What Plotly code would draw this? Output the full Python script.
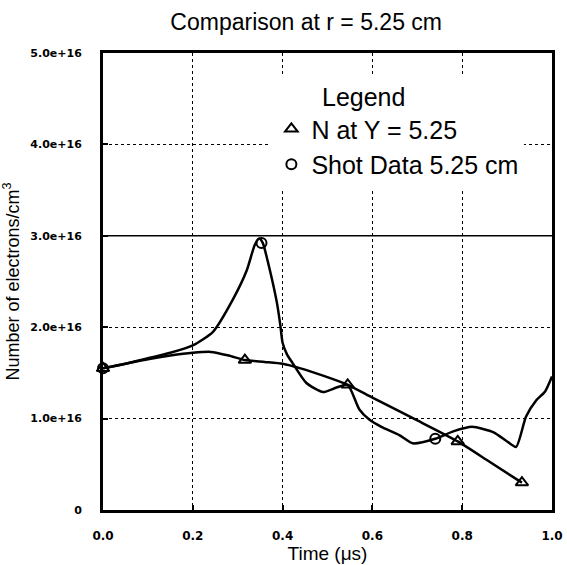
import plotly.graph_objects as go

# model curve: N at Y = 5.25 (units of 1e16 electrons/cm^3)
model_t = [0.0, 0.05, 0.10, 0.15, 0.20, 0.24, 0.28, 0.316, 0.36, 0.40, 0.44, 0.49, 0.545,
           0.60, 0.70, 0.79, 0.86, 0.933]
model_n = [1.55, 1.60, 1.65, 1.69, 1.72, 1.73, 1.69, 1.64, 1.62, 1.60, 1.55, 1.47, 1.37,
           1.23, 0.98, 0.75, 0.53, 0.30]
model_mark_t = [0.0, 0.316, 0.545, 0.79, 0.933]
model_mark_n = [1.55, 1.64, 1.37, 0.75, 0.30]

# shot data 5.25 cm
shot_t = [0.0, 0.05, 0.10, 0.15, 0.20, 0.245, 0.29, 0.32, 0.338, 0.348, 0.356, 0.367, 0.378,
          0.388, 0.395, 0.40, 0.41, 0.422, 0.453, 0.49, 0.52, 0.545, 0.571, 0.593, 0.62,
          0.66, 0.69, 0.74, 0.78, 0.822, 0.87, 0.90, 0.92, 0.942, 0.965, 0.985, 1.0]
shot_n = [1.55, 1.60, 1.66, 1.72, 1.80, 1.95, 2.31, 2.62, 2.90, 2.97, 2.92, 2.72, 2.49,
          2.25, 2.02, 1.83, 1.70, 1.61, 1.39, 1.29, 1.34, 1.37, 1.10, 0.99, 0.91,
          0.82, 0.73, 0.78, 0.86, 0.91, 0.85, 0.75, 0.69, 1.02, 1.20, 1.30, 1.46]
shot_mark_t = [0.0, 0.353, 0.74]
shot_mark_n = [1.55, 2.92, 0.78]

y_ticks = [0, 1, 2, 3, 4, 5]
y_labels = ["0", "1.0e+16", "2.0e+16", "3.0e+16", "4.0e+16", "5.0e+16"]
x_ticks = [0.0, 0.2, 0.4, 0.6, 0.8, 1.0]

font = "Liberation Sans, Arial, sans-serif"
tick_font = "DejaVu Sans, sans-serif"

fig = go.Figure()

fig.add_trace(go.Scatter(x=model_t, y=model_n, mode="lines", showlegend=False,
                         line=dict(color="black", width=2.5, shape="spline", smoothing=0.6)))
fig.add_trace(go.Scatter(x=shot_t, y=shot_n, mode="lines", showlegend=False,
                         line=dict(color="black", width=2.5, shape="spline", smoothing=0.6)))
fig.add_trace(go.Scatter(x=model_mark_t, y=model_mark_n, mode="markers", name="N at Y = 5.25",
                         marker=dict(symbol="triangle-up-open", size=11, color="black",
                                     line=dict(width=2, color="black"))))
fig.add_trace(go.Scatter(x=shot_mark_t, y=shot_mark_n, mode="markers", name="Shot Data 5.25 cm",
                         marker=dict(symbol="circle-open", size=10, color="black",
                                     line=dict(width=2, color="black"))))

# solid line along 3.0e+16 as in the original scan
fig.add_hline(y=3, line=dict(color="black", width=1.5), layer="below")

fig.update_traces(cliponaxis=False)

axis_common = dict(
    showline=True, linecolor="black", linewidth=3, mirror=True,
    showgrid=True, gridcolor="black", griddash="dot", gridwidth=1,
    zeroline=False, ticks="inside", ticklen=5, tickcolor="black", tickwidth=1.5,
)

fig.update_xaxes(range=[0, 1], tickvals=x_ticks, ticktext=[f"{v:.1f}" for v in x_ticks],
                 tickfont=dict(family=tick_font, size=12, color="black", weight="bold"),
                 ticklabeloverflow="allow", ticklabelstandoff=13,
                 title=dict(text="Time (μs)", font=dict(family=font, size=19, color="black"),
                            standoff=4),
                 **axis_common)
fig.update_yaxes(range=[0, 5], tickvals=y_ticks, ticktext=y_labels,
                 tickfont=dict(family=tick_font, size=11, color="black", weight="bold"),
                 ticklabelstandoff=16,
                 title=dict(text="Number of electrons/cm<sup>3</sup>",
                            font=dict(family=font, size=18, color="black"), standoff=7),
                 **axis_common)

fig.update_layout(
    width=567, height=565,
    margin=dict(l=103, r=15, t=53, b=55, autoexpand=False),
    plot_bgcolor="white", paper_bgcolor="white",
    title=dict(text="Comparison at r = 5.25 cm", x=0.54, xanchor="center",
               y=0.961, yanchor="middle",
               font=dict(family=font, size=23, color="black")),
    legend=dict(
        x=0.375, y=0.955, xanchor="left", yanchor="top",
        bgcolor="white", borderwidth=0,
        font=dict(family=font, size=25, color="black"),
        title=dict(text="\u00a0" * 7 + "Legend", side="top",
                   font=dict(family=font, size=25, color="black")),
        itemwidth=30, tracegroupgap=0,
    ),
)

fig.write_html("out.html", config={"displayModeBar": False},
               post_script="document.body.style.margin='0';document.body.style.padding='0';")
